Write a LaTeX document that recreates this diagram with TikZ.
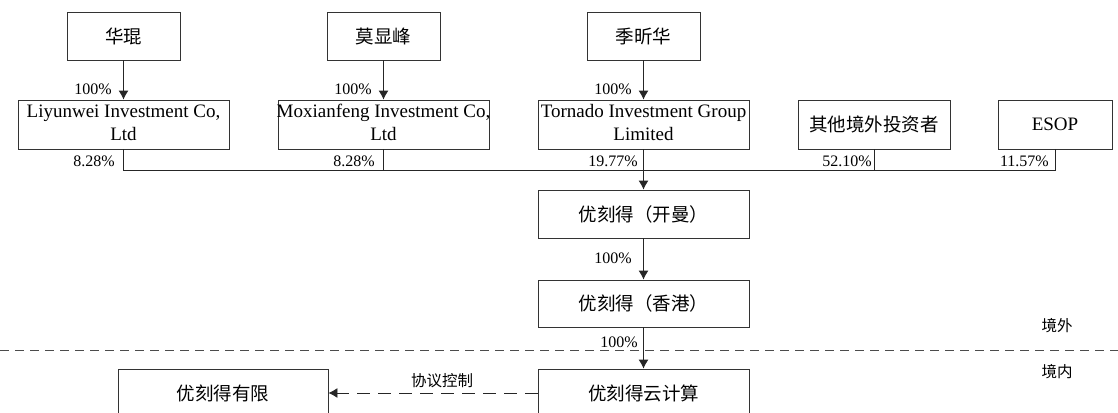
\documentclass[tikz,border=0pt]{standalone}
\usepackage{fontspec}
\setmainfont{Liberation Serif}
\newfontfamily\cjk{Noto Sans CJK SC}
\usetikzlibrary{arrows.meta}
\begin{document}
\begin{tikzpicture}[x=1pt,y=-1pt,
  box/.style={draw=black!80, line width=0.9pt, inner sep=0pt, font=\fontsize{19}{23}\selectfont},
  cjkbox/.style={box, font=\cjk\fontsize{18.5}{22}\selectfont},
  pct/.style={anchor=east, inner sep=0pt, font=\fontsize{16}{18}\selectfont},
  note/.style={inner sep=0pt, font=\cjk\fontsize{15.5}{18}\selectfont},
  link/.style={draw=black!85, line width=0.9pt},
  arr/.style={link, -{Latex[length=9pt,width=10pt]}},
  darr/.style={link, dash pattern=on 13pt off 8pt, -{Latex[length=9pt,width=10pt]}},
  sep/.style={draw=black!70, line width=0.9pt, dash pattern=on 9pt off 6pt}
]
\useasboundingbox (0,0) rectangle (1118,412);
% top owners
\node[cjkbox, minimum width=113pt, minimum height=48pt] (p1) at (123.5,36) {华琨};
\node[cjkbox, minimum width=113pt, minimum height=48pt] (p2) at (383.5,36) {莫显峰};
\node[cjkbox, minimum width=113pt, minimum height=48pt] (p3) at (643.5,36) {季昕华};
% holding companies
\node[box, minimum width=211pt, minimum height=49pt] (c1) at (123.5,124.5)
  {\makebox[0pt]{\begin{tabular}{@{}c@{}}Liyunwei Investment Co,\\Ltd\end{tabular}}};
\node[box, minimum width=211pt, minimum height=49pt] (c2) at (383.5,124.5)
  {\makebox[0pt]{\begin{tabular}{@{}c@{}}Moxianfeng Investment Co,\\Ltd\end{tabular}}};
\node[box, minimum width=211pt, minimum height=49pt] (c3) at (643.5,124.5)
  {\makebox[0pt]{\begin{tabular}{@{}c@{}}Tornado Investment Group\\Limited\end{tabular}}};
\node[cjkbox, minimum width=152pt, minimum height=49pt] (c4) at (874,124.5) {其他境外投资者};
\node[box, minimum width=114pt, minimum height=49pt] (c5) at (1055,124.5) {ESOP};
% chain
\node[cjkbox, minimum width=211pt, minimum height=48pt] (k) at (643.5,214) {优刻得（开曼）};
\node[cjkbox, minimum width=211pt, minimum height=47pt] (h) at (643.5,303.5) {优刻得（香港）};
\node[cjkbox, minimum width=211pt, minimum height=48pt] (y) at (643.5,393) {优刻得云计算};
\node[cjkbox, minimum width=210pt, minimum height=48pt] (l) at (223,393) {优刻得有限};
% connectors
\draw[arr] (p1) -- (c1);
\draw[arr] (p2) -- (c2);
\draw[arr] (p3) -- (c3);
\coordinate (bus) at (0,170);
\draw[link] (c1.south) -- (c1.south |- bus) -- (c5.south |- bus) -- (c5.south);
\draw[link] (c2.south) -- (c2.south |- bus);
\draw[link] (c4.south) -- (c4.south |- bus);
\draw[arr] (c3.south) -- (k.north);
\draw[arr] (k) -- (h);
\draw[arr] (h) -- (y);
\draw[darr] (y.west) -- (l.east);
\coordinate (sepL) at (0,350);
\coordinate (sepR) at (1118,350);
\draw[sep] (sepL) -- (sepR);
% labels
\node[pct] (t1) at (112,89) {100\%};
\node[pct] (t2) at (372,89) {100\%};
\node[pct] (t3) at (632,89) {100\%};
\node[pct] (s1) at (115,161) {8.28\%};
\node[pct] (s2) at (375,161) {8.28\%};
\node[pct] (s3) at (638,161) {19.77\%};
\node[pct] (s4) at (872,161) {52.10\%};
\node[pct] (s5) at (1049,161) {11.57\%};
\node[pct] (t4) at (632,258) {100\%};
\node[pct] (t5) at (638,342) {100\%};
\node[note] (xy) at (442,381) {协议控制};
\node[note] (jw) at (1057,326) {境外};
\node[note] (jn) at (1057,372) {境内};
\end{tikzpicture}
\end{document}
